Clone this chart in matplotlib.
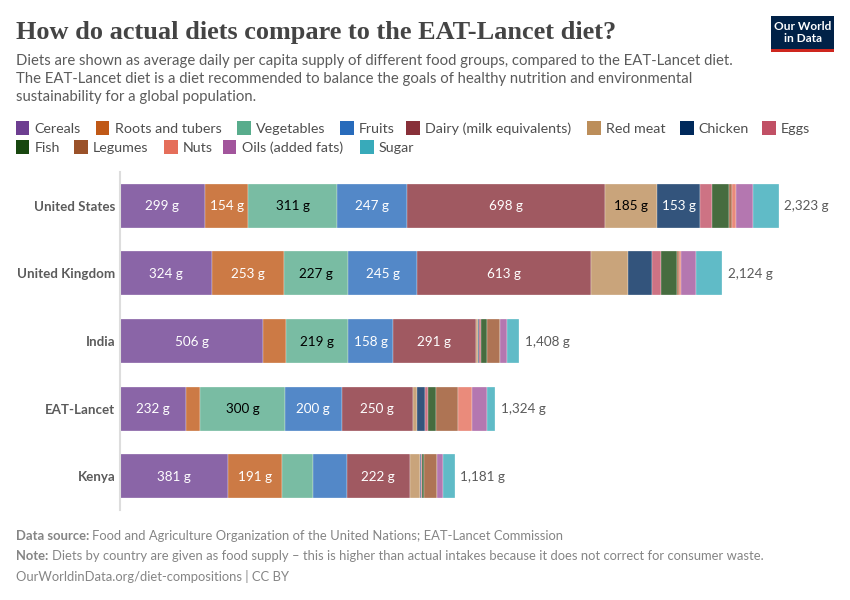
# diet composition stacked bars, EAT-Lancet comparison

import matplotlib
matplotlib.use('Agg')
import matplotlib.pyplot as plt
from matplotlib.patches import Rectangle

plt.rcParams['font.family'] = ['Lato', 'DejaVu Sans']

countries = ['United States', 'United Kingdom', 'India', 'EAT-Lancet', 'Kenya']
totals = [2323, 2124, 1408, 1324, 1181]

foods = ['Cereals', 'Roots and tubers', 'Vegetables', 'Fruits', 'Dairy (milk equivalents)',
         'Red meat', 'Chicken', 'Eggs', 'Fish', 'Legumes', 'Nuts', 'Oils (added fats)', 'Sugar']
colors = ['#6D3E91', '#C05917', '#58AC8C', '#286BBB', '#883039', '#BC8E5A', '#00295B',
          '#C15065', '#18470F', '#9A5129', '#E56E5A', '#A2559C', '#38AABA']

# grams per day, same order as countries
cereals = [299, 324, 506, 232, 381]
roots = [154, 253, 80, 50, 191]
vegetables = [311, 227, 219, 300, 110]
fruits = [247, 245, 158, 200, 118]
dairy = [698, 613, 291, 250, 222]
red_meat = [185, 130, 8, 14, 35]
chicken = [153, 86, 5, 29, 3]
eggs = [42, 32, 8, 13, 5]
fish = [60, 53, 18, 28, 7]
legumes = [10, 10, 46, 75, 45]
nuts = [13, 7, 3, 50, 1]
oils = [61, 50, 23, 52, 21]
sugar = [90, 94, 43, 31, 42]
series = [cereals, roots, vegetables, fruits, dairy, red_meat, chicken, eggs, fish,
          legumes, nuts, oils, sugar]

W, H = 850, 600
fig = plt.figure(figsize=(W / 100, H / 100), dpi=100)


def fx(x):
    return x / W


def fy(y):
    return 1 - y / H


def px_text(x, y, s, **kw):
    kw.setdefault('va', 'center')
    return fig.text(fx(x), fy(y), s, **kw)


def px_rect(x0, y0, x1, y1, color):
    fig.add_artist(Rectangle((fx(x0), fy(y1)), (x1 - x0) / W, (y1 - y0) / H,
                             transform=fig.transFigure, facecolor=color, edgecolor='none'))


# header
px_text(16, 32, 'How do actual diets compare to the EAT-Lancet diet?', fontsize=18.95,
        family=['Liberation Serif', 'DejaVu Serif'], weight='bold', color='#444444')
subtitle = ['Diets are shown as average daily per capita supply of different food groups, compared to the EAT-Lancet diet.',
            'The EAT-Lancet diet is a diet recommended to balance the goals of healthy nutrition and environmental',
            'sustainability for a global population.']
for i, line in enumerate(subtitle):
    px_text(16, 61 + i * 18, line, fontsize=10.72, color='#5b5b5b')

# logo
px_rect(771, 16, 834, 52, '#002147')
px_rect(771, 49, 834, 52, '#CE261E')
px_text(802.5, 27, 'Our World', fontsize=8.6, color='white', weight='bold', ha='center')
px_text(802.5, 39, 'in Data', fontsize=8.6, color='white', weight='bold', ha='center')

# legend
legend_sq = [16, 96, 237, 340, 406, 587, 680, 762, 16, 74, 164, 223, 360]
legend_row = [128, 128, 128, 128, 128, 128, 128, 128, 147, 147, 147, 147, 147]
for name, col, x, y in zip(foods, colors, legend_sq, legend_row):
    px_rect(x, y - 7, x + 13.5, y + 6.5, col)
    px_text(x + 18.7, y + 0.7, name, fontsize=10.3, color='#4e4e4e')

# bars
ax = fig.add_axes([fx(120), fy(510), fx(730), (510 - 172) / H])
ax.set_xlim(0, 730 / 0.2835)
ax.set_ylim(4.5, -0.5)
lefts = [0] * len(countries)
for name, col, vals in zip(foods, colors, series):
    ax.barh(range(len(countries)), vals, left=lefts, height=0.65, color=col, alpha=0.8,
            edgecolor='white', linewidth=0.25)
    for i, v in enumerate(vals):
        if v >= 150:
            tcol = 'black' if name in ('Vegetables', 'Red meat') else 'white'
            ax.annotate(f'{v} g', (lefts[i] + v / 2, i), xytext=(0, -0.4), textcoords='offset points',
                        ha='center', va='center', fontsize=9.7, color=tcol)
    lefts = [a + b for a, b in zip(lefts, vals)]

for i, t in enumerate(totals):
    ax.annotate(f'{t:,} g', (lefts[i] + 20, i), xytext=(0, -0.4), textcoords='offset points',
                va='center', fontsize=9.7, color='#5b5b5b')

for s in ['top', 'right', 'bottom']:
    ax.spines[s].set_visible(False)
ax.spines['left'].set_color('#dddddd')
ax.spines['left'].set_linewidth(1.5)
ax.set_xticks([])
ax.set_yticks(range(len(countries)))
ax.set_yticklabels(countries, fontsize=9.6, weight='bold', color='#5b5b5b')
ax.tick_params(axis='y', length=0, pad=3.4)
ax.patch.set_alpha(0)

# footer
px_text(16, 536.5, 'Data source:', fontsize=9.4, weight='bold', color='#858585')
px_text(92, 536.5, 'Food and Agriculture Organization of the United Nations; EAT-Lancet Commission',
        fontsize=9.34, color='#858585')
px_text(16, 556.5, 'Note:', fontsize=9.4, weight='bold', color='#858585')
px_text(52, 556.5, 'Diets by country are given as food supply \u2013 this is higher than actual intakes because it does not correct for consumer waste.',
        fontsize=9.34, color='#858585')
px_text(16, 576.5, 'OurWorldinData.org/diet-compositions | CC BY', fontsize=9.4, color='#858585')

fig.savefig('out.png', dpi=100)
